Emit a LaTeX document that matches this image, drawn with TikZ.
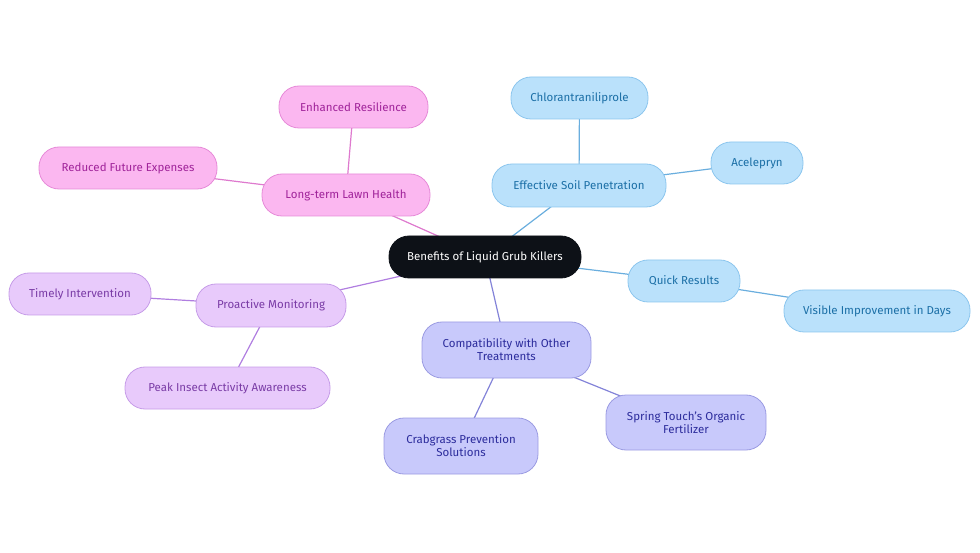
\documentclass[tikz,border=0pt]{standalone}
\usepackage{fontspec}
\setmainfont{Fira Sans}
\usetikzlibrary{backgrounds}
\definecolor{bluefill}{HTML}{BAE1FB}
\definecolor{blueline}{HTML}{8CC6EE}
\definecolor{bluetext}{HTML}{1B6FA6}
\definecolor{blueedge}{HTML}{6AAEDE}
\definecolor{pinkfill}{HTML}{FBB7F0}
\definecolor{pinkline}{HTML}{E68AD8}
\definecolor{pinktext}{HTML}{A0239A}
\definecolor{pinkedge}{HTML}{DE7ACE}
\definecolor{lavfill}{HTML}{E8CAFB}
\definecolor{lavline}{HTML}{C69CE8}
\definecolor{lavtext}{HTML}{7A3CA6}
\definecolor{lavedge}{HTML}{B07EE0}
\definecolor{indfill}{HTML}{C8C9FB}
\definecolor{indline}{HTML}{9B9BE2}
\definecolor{indtext}{HTML}{2C2C9C}
\definecolor{indedge}{HTML}{8383D8}
\definecolor{rootfill}{HTML}{0D1117}
\tikzset{
  box/.style={rectangle, rounded corners=20pt, line width=0.8pt, inner sep=0pt,
    font=\fontsize{11.5}{13}\selectfont, align=center},
  bluebox/.style={box, fill=bluefill, draw=blueline, text=bluetext},
  pinkbox/.style={box, fill=pinkfill, draw=pinkline, text=pinktext},
  lavbox/.style={box, fill=lavfill, draw=lavline, text=lavtext},
  indbox/.style={box, fill=indfill, draw=indline, text=indtext},
  rootbox/.style={box, fill=rootfill, draw=rootfill, text=white},
  link/.style={line width=1.2pt}
}
\begin{document}
\begin{tikzpicture}[x=1pt,y=-1pt]
\useasboundingbox (0,0) rectangle (980,553);
\node[rootbox, minimum width=192pt, minimum height=42pt] (root) at (485,257) {Benefits of Liquid Grub Killers};
\node[bluebox, minimum width=174pt, minimum height=43pt] (soil) at (579,185.5) {Effective Soil Penetration};
\node[bluebox, minimum width=137pt, minimum height=42pt] (chlor) at (579.5,98) {Chlorantraniliprole};
\node[bluebox, minimum width=92pt, minimum height=42pt] (acel) at (757,163) {Acelepryn};
\node[bluebox, minimum width=112pt, minimum height=42pt] (quick) at (684,281) {Quick Results};
\node[bluebox, minimum width=186pt, minimum height=42pt] (visible) at (877,311) {Visible Improvement in Days};
\node[indbox, minimum width=169pt, minimum height=56pt] (compat) at (506.5,350) {Compatibility with Other\\Treatments};
\node[indbox, minimum width=160pt, minimum height=55pt] (spring) at (686,422.5) {Spring Touch’s Organic\\Fertilizer};
\node[indbox, minimum width=154pt, minimum height=56pt] (crab) at (461,446) {Crabgrass Prevention\\Solutions};
\node[pinkbox, minimum width=168pt, minimum height=42pt] (lawn) at (346,195) {Long-term Lawn Health};
\node[pinkbox, minimum width=149pt, minimum height=42pt] (resil) at (353.5,107) {Enhanced Resilience};
\node[pinkbox, minimum width=178pt, minimum height=42pt] (reduced) at (128,168) {Reduced Future Expenses};
\node[lavbox, minimum width=150pt, minimum height=43pt] (proact) at (271,305.5) {Proactive Monitoring};
\node[lavbox, minimum width=142pt, minimum height=42pt] (timely) at (80,294) {Timely Intervention};
\node[lavbox, minimum width=205pt, minimum height=42pt] (peak) at (227.5,388) {Peak Insect Activity Awareness};
\begin{scope}[on background layer]
\draw[link, blueedge] (root.center) -- (soil.center);
\draw[link, blueedge] (soil.center) -- (chlor.center);
\draw[link, blueedge] (soil.center) -- (acel.center);
\draw[link, blueedge] (root.center) -- (quick.center);
\draw[link, blueedge] (quick.center) -- (visible.center);
\draw[link, indedge] (root.center) -- (compat.center);
\draw[link, indedge] (compat.center) -- (spring.center);
\draw[link, indedge] (compat.center) -- (crab.center);
\draw[link, pinkedge] (root.center) -- (lawn.center);
\draw[link, pinkedge] (lawn.center) -- (resil.center);
\draw[link, pinkedge] (lawn.center) -- (reduced.center);
\draw[link, lavedge] (root.center) -- (proact.center);
\draw[link, lavedge] (proact.center) -- (timely.center);
\draw[link, lavedge] (proact.center) -- (peak.center);
\end{scope}
\end{tikzpicture}
\end{document}
